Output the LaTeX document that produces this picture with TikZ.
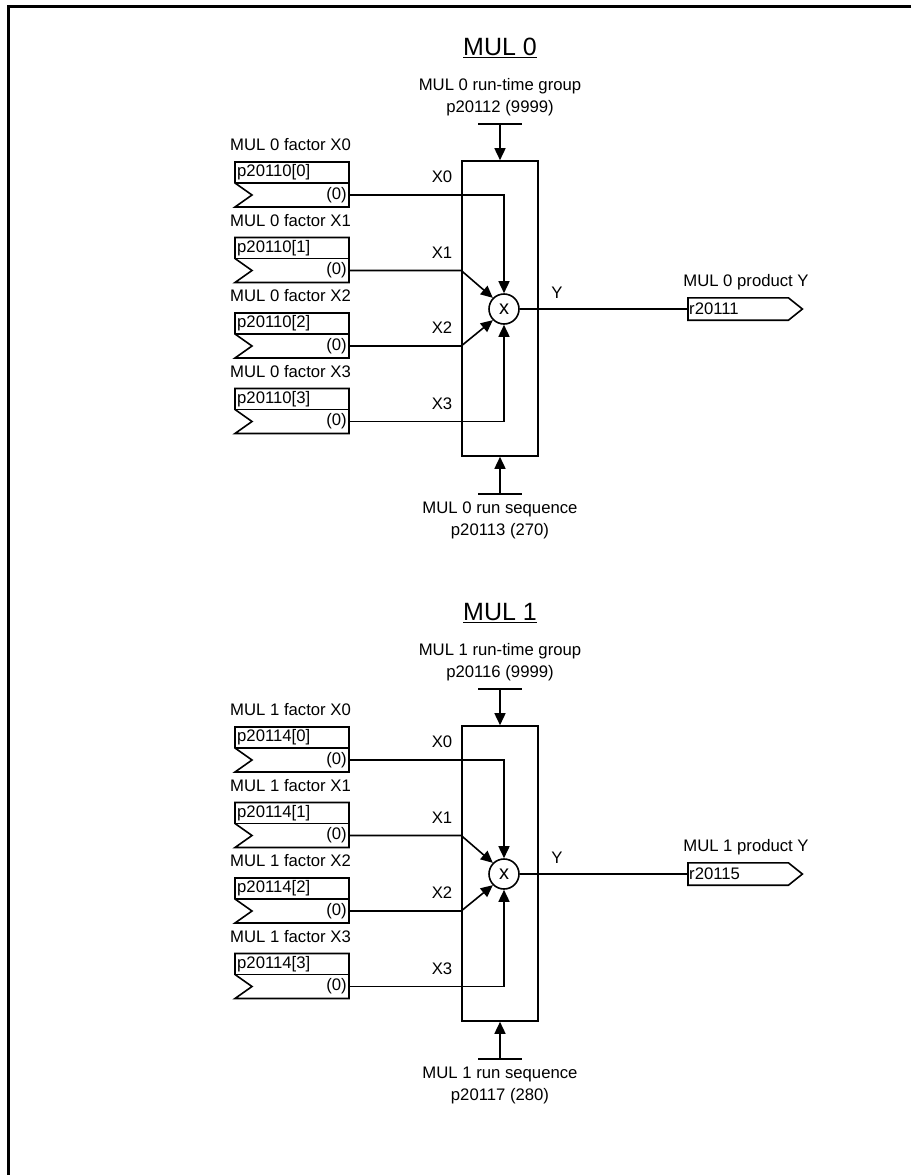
\documentclass[tikz,border=0pt]{standalone}
\usepackage{fontspec}
\setmainfont{Liberation Sans}
\usetikzlibrary{arrows.meta}
\begin{document}
\begin{tikzpicture}[x=1pt,y=-1pt,
  every node/.style={font=\fontsize{16.7}{22}\selectfont, inner sep=0pt},
  ln/.style={line width=1.6pt},
  arr/.style={ln,-{Triangle[length=12pt,width=11pt]}},
  ttl/.style={font=\fontsize{25}{30}\selectfont},
  frame/.style={line width=3pt},
]
\useasboundingbox (0,0) rectangle (911,1175);
\draw[frame] (911,6.5) -- (8.5,6.5) -- (8.5,1175);
\foreach \b/\off/\pg/\pgv/\pf/\pout/\ps/\psv in
  {0/0/p20112/9999/p20110/r20111/p20113/270,
   1/565/p20116/9999/p20114/r20115/p20117/280}{
\begin{scope}[shift={(0,\off)}]
  \node[ttl] (t\b) at (500,48) {\underline{MUL \b}};
  \node[align=center] (g\b) at (500,97) {MUL \b\ run-time group\\\pg\ (\pgv)};
  \coordinate (gt\b) at (500,124);
  \draw[ln] ([xshift=-22pt]gt\b) -- ([xshift=22pt]gt\b);
  \node[draw, ln, minimum width=76pt, minimum height=295pt] (box\b) at (500,308.5) {};
  \draw[arr] (gt\b) -- (box\b.north);
  \node[draw, ln, circle, minimum size=30pt, font=\fontsize{20}{24}\selectfont] (c\b) at (504,309) {x};
  \coordinate (st\b) at (500,494);
  \draw[ln] ([xshift=-22pt]st\b) -- ([xshift=22pt]st\b);
  \draw[arr] (st\b) -- (box\b.south);
  \node[align=center] (s\b) at (500,520) {MUL \b\ run sequence\\\ps\ (\psv)};
  \foreach \i in {0,...,3}{
    \pgfmathsetmacro\Y{195+75.5*\i}
    \draw[ln] (235,\Y-12) -- (235,\Y-33) -- (349,\Y-33) -- (349,\Y+12)
      -- (235,\Y+12) -- (252,\Y) -- cycle;
    \draw[ln] (235,\Y-12) -- (349,\Y-12);
    \node[anchor=west] (fl\b\i) at (230,\Y-50) {MUL \b\ factor X\i};
    \node[anchor=west] (pn\b\i) at (237,\Y-22.5) {{\pf}[\i]};
    \node[anchor=east] (pv\b\i) at (347,\Y) {(0)};
    \coordinate (o\b\i) at (349,\Y);
    \node (xl\b\i) at (442,\Y-18) {X\i};
  }
  \draw[arr] (o\b0) -| (c\b.north);
  \draw[arr] (o\b3) -| (c\b.south);
  \draw[arr] (o\b1) -- (box\b.west |- o\b1) -- (c\b.135);
  \draw[arr] (o\b2) -- (box\b.west |- o\b2) -- (c\b.225);
  \node[anchor=west, text width=98pt, align=left, minimum height=22pt, inner xsep=1pt] (out\b) at (688,309) {\pout};
  \draw[ln] (out\b.north west) -- (out\b.north east) -- ([xshift=14pt]out\b.east)
    -- (out\b.south east) -- (out\b.south west) -- cycle;
  \node (yl\b) at (557,293) {Y};
  \node (pl\b) at (746,282) {MUL \b\ product Y};
  \draw[ln] (c\b.east) -- (out\b.west);
\end{scope}
}
\end{tikzpicture}
\end{document}
